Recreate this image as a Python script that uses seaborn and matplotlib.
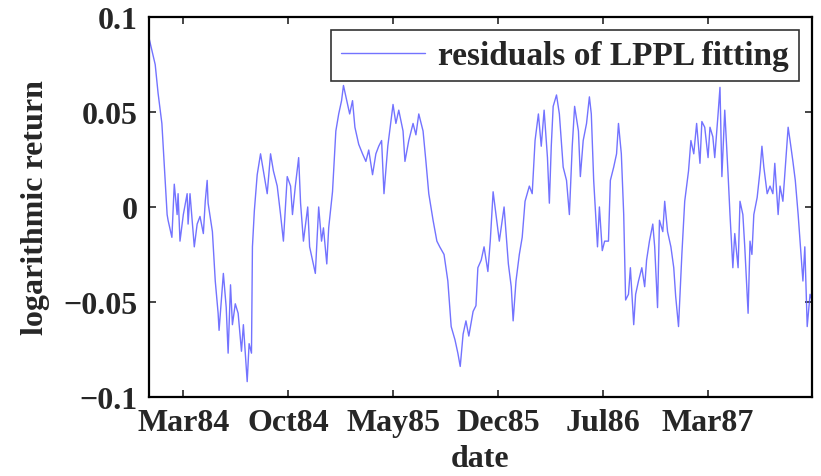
import numpy as np
import pandas as pd
import seaborn as sns
import matplotlib
matplotlib.use("Agg")
import matplotlib.pyplot as plt
import matplotlib.dates as mdates

sns.set_style("ticks")
plt.rcParams['font.family'] = ['Liberation Serif', 'DejaVu Serif']
plt.rcParams['font.weight'] = 'bold'

# days since 1983-12-21, values of the residuals
start_date = "1983-12-21"
days = [0, 13, 19, 27, 34, 38, 40, 48, 53, 59,
        61, 65, 72, 80, 82, 86, 95, 101, 107, 114,
        118, 122, 124, 133, 139, 145, 147, 156, 162, 166,
        171, 175, 181, 187, 194, 198, 206, 210, 215, 217,
        221, 227, 234, 240, 248, 255, 261, 269, 276, 282,
        290, 297, 301, 307, 314, 318, 324, 333, 337, 343,
        349, 356, 362, 366, 373, 377, 385, 392, 398, 404,
        408, 415, 421, 427, 432, 440, 448, 455, 461, 469,
        476, 482, 488, 493, 501, 505, 512, 518, 524, 533,
        537, 545, 554, 560, 566, 575, 581, 587, 596, 604,
        610, 619, 627, 634, 642, 648, 653, 659, 665, 671,
        680, 686, 690, 697, 703, 711, 716, 722, 726, 735,
        741, 745, 754, 760, 764, 770, 777, 783, 789, 798,
        804, 810, 817, 823, 829, 836, 840, 844, 848, 855,
        861, 869, 876, 882, 888, 893, 901, 905, 911, 918,
        924, 928, 933, 937, 941, 945, 951, 956, 964, 968,
        975, 981, 985, 991, 996, 1000, 1006, 1010, 1017, 1021,
        1027, 1034, 1040, 1044, 1050, 1057, 1061, 1067, 1071, 1078,
        1082, 1088, 1095, 1101, 1105, 1111, 1118, 1124, 1132, 1137,
        1143, 1149, 1156, 1160, 1166, 1173, 1177, 1183, 1187, 1194,
        1198, 1202, 1208, 1215, 1219, 1225, 1229, 1236, 1240, 1246,
        1250, 1257, 1261, 1265, 1269, 1276, 1282, 1286, 1290, 1297,
        1303, 1309, 1313, 1320, 1324, 1330, 1335, 1341, 1345, 1351,
        1356, 1362, 1366, 1372, 1376, 1381, 1387, 1391]

residuals = [0.089, 0.075, 0.060, 0.044, 0.014, -0.004, -0.007, -0.016, 0.012, -0.004,
             0.007, -0.018, -0.004, 0.007, -0.009, 0.007, -0.021, -0.009, -0.005, -0.014,
             0.003, 0.014, 0.002, -0.013, -0.039, -0.056, -0.065, -0.035, -0.053, -0.077,
             -0.041, -0.062, -0.051, -0.056, -0.076, -0.062, -0.092, -0.072, -0.077, -0.021,
             -0.002, 0.017, 0.028, 0.019, 0.007, 0.028, 0.019, 0.011, -0.004, -0.018,
             0.016, 0.011, -0.004, 0.011, 0.026, 0.002, -0.018, 0.000, -0.021, -0.028,
             -0.035, 0.000, -0.018, -0.011, -0.030, -0.011, 0.008, 0.040, 0.049, 0.056,
             0.064, 0.056, 0.049, 0.056, 0.042, 0.033, 0.028, 0.024, 0.030, 0.017,
             0.028, 0.032, 0.035, 0.007, 0.032, 0.040, 0.054, 0.044, 0.051, 0.040,
             0.024, 0.035, 0.044, 0.038, 0.049, 0.040, 0.024, 0.007, -0.007, -0.018,
             -0.021, -0.025, -0.039, -0.063, -0.070, -0.077, -0.084, -0.067, -0.060, -0.068,
             -0.055, -0.052, -0.032, -0.028, -0.021, -0.034, -0.018, 0.008, 0.000, -0.018,
             -0.007, 0.000, -0.030, -0.042, -0.060, -0.039, -0.025, -0.016, 0.003, 0.011,
             0.007, 0.035, 0.049, 0.032, 0.051, 0.026, 0.002, 0.032, 0.053, 0.059,
             0.049, 0.021, 0.014, -0.004, 0.032, 0.053, 0.040, 0.016, 0.035, 0.044,
             0.058, 0.049, 0.014, -0.004, -0.021, 0.000, -0.023, -0.018, -0.018, 0.014,
             0.021, 0.028, 0.044, 0.028, -0.004, -0.049, -0.046, -0.032, -0.062, -0.046,
             -0.039, -0.032, -0.042, -0.028, -0.018, -0.009, -0.021, -0.053, -0.007, -0.013,
             0.003, -0.013, -0.021, -0.032, -0.047, -0.063, -0.025, 0.003, 0.019, 0.035,
             0.028, 0.044, 0.023, 0.045, 0.042, 0.026, 0.042, 0.037, 0.026, 0.049,
             0.063, 0.016, 0.051, 0.017, -0.004, -0.032, -0.014, -0.032, 0.003, -0.004,
             -0.021, -0.056, -0.018, -0.025, -0.004, 0.005, 0.019, 0.032, 0.021, 0.007,
             0.011, 0.007, 0.023, -0.004, 0.011, 0.003, 0.021, 0.042, 0.035, 0.024,
             0.014, -0.004, -0.018, -0.039, -0.021, -0.063, -0.046, -0.049]

tick_start = "1984-03-02"
tick_step_days = 220
n_ticks = 6
yticks = [-0.1, -0.05, 0, 0.05, 0.1]
ytick_labels = ["\u22120.1", "\u22120.05", "0", "0.05", "0.1"]

assert len(days) == len(residuals)
dates = pd.Timestamp(start_date) + pd.to_timedelta(days, unit="D")
df = pd.DataFrame({"date": dates, "resid": residuals})

fig = plt.figure(figsize=(8.21, 4.77), dpi=100)
ax = fig.add_axes([0.1815, 0.166, 0.8075, 0.796])

sns.lineplot(data=df, x="date", y="resid", ax=ax, color="#5a5aff", lw=1.0,
             alpha=0.85, label="residuals of LPPL fitting")

ax.set_xlim(dates[0], dates[-1])
ax.set_ylim(-0.1, 0.1)
ticks = pd.date_range(tick_start, periods=n_ticks, freq="%dD" % tick_step_days)
ax.set_xticks(ticks)
ax.xaxis.set_major_formatter(mdates.DateFormatter("%b%y"))
ax.set_yticks(yticks)
ax.set_yticklabels(ytick_labels)
ax.tick_params(direction="in", length=5, width=1.2, top=True, right=True,
               labelsize=23)
ax.tick_params(axis="x", pad=8)
ax.tick_params(axis="y", pad=8)
for lab in ax.get_xticklabels() + ax.get_yticklabels():
    lab.set_fontweight("bold")
for s in ax.spines.values():
    s.set_linewidth(1.6)
    s.set_color("black")

ax.set_xlabel("date", fontsize=23, fontweight="bold", labelpad=5)
ax.set_ylabel("logarithmic return", fontsize=23, fontweight="bold", labelpad=10)

leg = ax.legend(loc="upper right", fontsize=24, frameon=True, fancybox=False,
                edgecolor="black", handlelength=2.5, borderaxespad=0.4,
                borderpad=0.3, handletextpad=0.4)
leg.get_frame().set_linewidth(1.2)
for t in leg.get_texts():
    t.set_fontweight("bold")

fig.savefig("out.png", dpi=100, facecolor="white")
